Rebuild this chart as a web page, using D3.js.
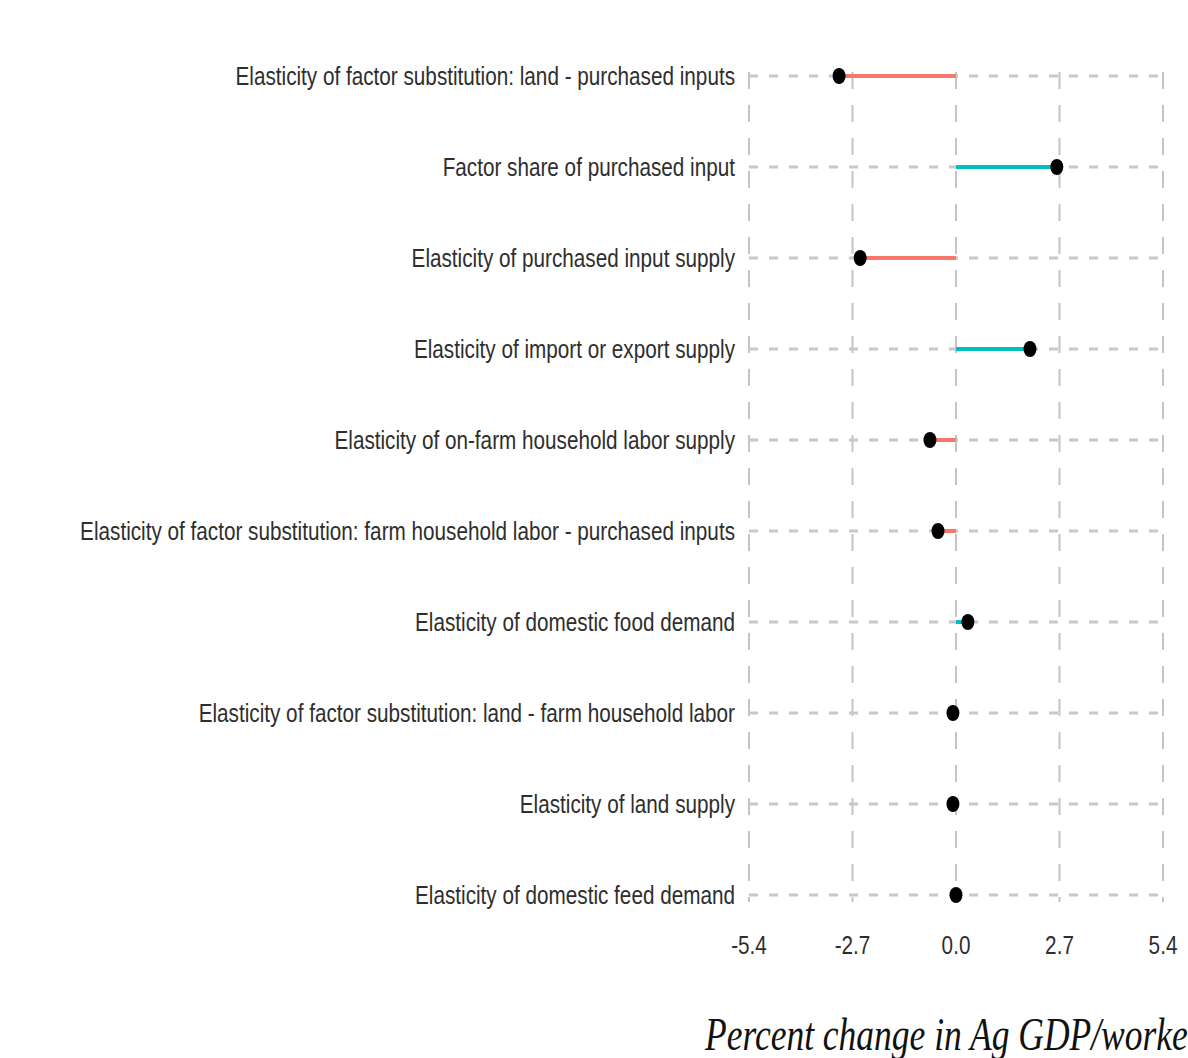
<!DOCTYPE html>
<html>
<head>
<meta charset="utf-8">
<script src="https://cdn.jsdelivr.net/npm/d3@7"></script>
<style>
  body { margin: 0; background: #fff; }
  svg { display: block; }
</style>
</head>
<body>
<svg id="chart"></svg>
<script>
// parameters, top to bottom
const parameters = [
  "Elasticity of factor substitution: land - purchased inputs",
  "Factor share of purchased input",
  "Elasticity of purchased input supply",
  "Elasticity of import or export supply",
  "Elasticity of on-farm household labor supply",
  "Elasticity of factor substitution: farm household labor - purchased inputs",
  "Elasticity of domestic food demand",
  "Elasticity of factor substitution: land - farm household labor",
  "Elasticity of land supply",
  "Elasticity of domestic feed demand"
];
const changes = [-3.05, 2.63, -2.5, 1.93, -0.68, -0.47, 0.31, -0.08, -0.08, 0.0];
const xTicks = [-5.4, -2.7, 0.0, 2.7, 5.4];
const axisTitle = "Percent change in Ag GDP/worker";

const W = 1188, H = 1058;
const svg = d3.select("#chart").attr("width", W).attr("height", H);

const x = d3.scaleLinear().domain([-5.4, 5.4]).range([749, 1163]);
const y = d3.scalePoint().domain(parameters).range([76, 895]);

const grid = svg.append("g").attr("class", "grid");

// vertical grid
grid.selectAll("line.v")
  .data(xTicks)
  .enter().append("line")
  .attr("class", "v")
  .attr("x1", d => x(d)).attr("x2", d => x(d))
  .attr("y1", 72).attr("y2", 902)
  .attr("stroke", "#c4c4c4")
  .attr("stroke-width", 2)
  .attr("stroke-dasharray", "17,16");

// horizontal grid
grid.selectAll("line.h")
  .data(parameters)
  .enter().append("line")
  .attr("class", "h")
  .attr("x1", x(-5.4)).attr("x2", x(5.4))
  .attr("y1", d => y(d)).attr("y2", d => y(d))
  .attr("stroke", "#c8c8c8")
  .attr("stroke-width", 3)
  .attr("stroke-dasharray", "9,11");

const rows = parameters.map((p, i) => ({ name: p, value: changes[i] }));

// stems
svg.selectAll("line.stem")
  .data(rows)
  .enter().append("line")
  .attr("class", "stem")
  .attr("x1", x(0)).attr("x2", d => x(d.value))
  .attr("y1", d => y(d.name)).attr("y2", d => y(d.name))
  .attr("stroke", d => d.value < 0 ? "#f8766d" : "#00bfc4")
  .attr("stroke-width", 4);

// points
svg.selectAll("ellipse.pt")
  .data(rows)
  .enter().append("ellipse")
  .attr("class", "pt")
  .attr("cx", d => x(d.value))
  .attr("cy", d => y(d.name))
  .attr("rx", 6.5).attr("ry", 8)
  .attr("fill", "#000");

// category labels, condensed to fit
const labels = svg.append("g").attr("class", "labels");
const labelText = labels.selectAll("text")
  .data(parameters)
  .enter().append("text")
  .attr("text-anchor", "end")
  .attr("dominant-baseline", "central")
  .attr("font-family", "Liberation Sans, Arial, sans-serif")
  .attr("font-size", "26px")
  .attr("fill", "#2e2e2e")
  .text(d => d);

let longest = 0;
labelText.each(function () { longest = Math.max(longest, this.getComputedTextLength()); });
const sx = 655 / longest;
labelText.attr("transform", d => `translate(735,${y(d)}) scale(${sx},1)`);

// tick labels (plain hyphen minus, as in the source)
svg.append("g").selectAll("text")
  .data(xTicks)
  .enter().append("text")
  .attr("text-anchor", "middle")
  .attr("dominant-baseline", "central")
  .attr("font-family", "Liberation Sans, Arial, sans-serif")
  .attr("font-size", "26px")
  .attr("fill", "#2e2e2e")
  .attr("transform", d => `translate(${x(d)},945) scale(${sx},1)`)
  .text(d => d.toFixed(1));

// axis title (runs off the right edge, as in the source)
const title = svg.append("text")
  .attr("font-family", "Liberation Serif, Times New Roman, serif")
  .attr("font-style", "italic")
  .attr("font-size", "47px")
  .attr("fill", "#111")
  .text(axisTitle);
const cutLen = title.node().getSubStringLength(0, axisTitle.length - 1);
const tx = 483 / cutLen;
title.attr("transform", `translate(705,1050) scale(${tx},1)`);
</script>
</body>
</html>
